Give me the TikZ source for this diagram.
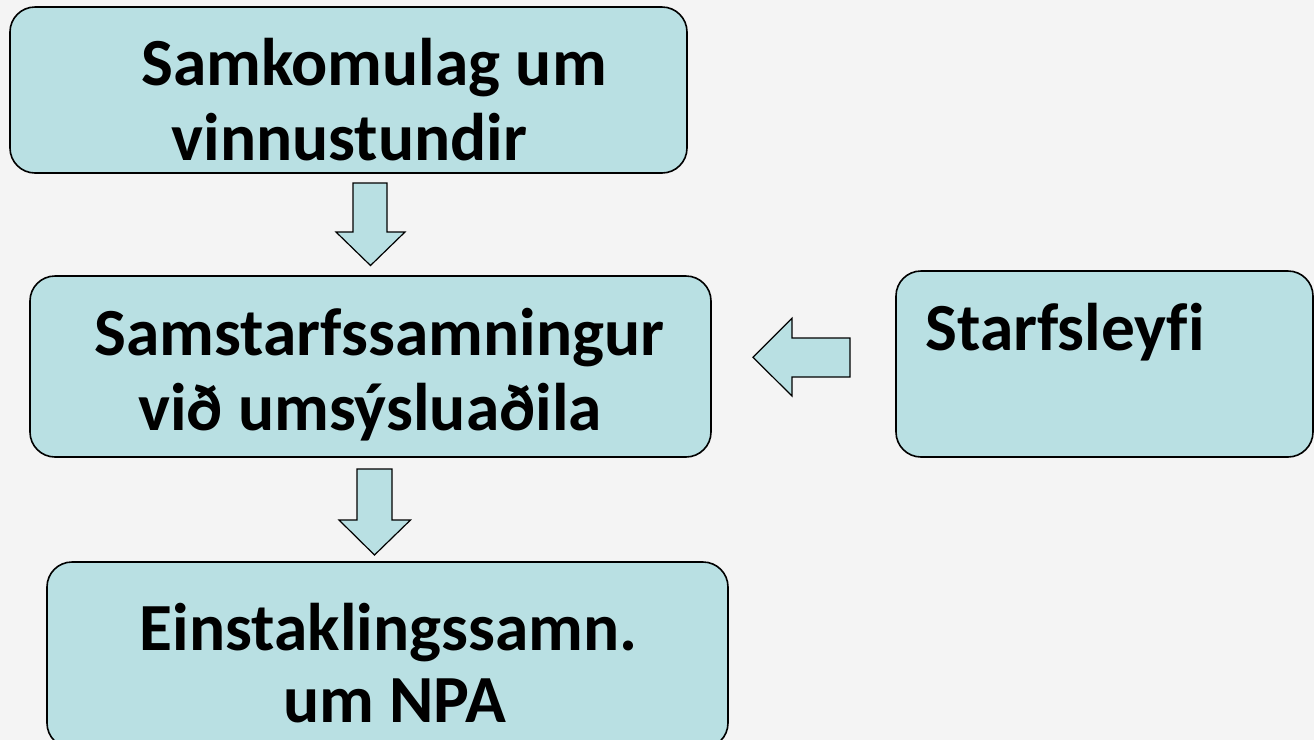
\documentclass[tikz,border=0pt]{standalone}
\usepackage{fontspec}
\setmainfont{Carlito}[Ligatures=NoCommon]
\definecolor{boxfill}{HTML}{B9E0E3}
\definecolor{bgcol}{HTML}{F4F4F4}
\begin{document}
\begin{tikzpicture}[x=0.5pt,y=-0.5pt,
  box/.style={draw=black,line width=0.8pt,fill=boxfill,rounded corners=12.5pt},
  txt/.style={font=\fontsize{33.7}{40}\selectfont\bfseries,inner sep=0pt,anchor=base},
  blockarrow/.style={draw=black,line width=0.6pt,fill=boxfill,line join=miter}]
\fill[bgcol] (0,0) rectangle (1314,740);
\useasboundingbox (0,0) rectangle (1314,740);
% boxes
\draw[box] (10,7) rectangle (687,173);
\draw[box] (30,276) rectangle (711,457);
\draw[box] (47,562) rectangle (728,748);
\draw[box] (896,271) rectangle (1313,457);
% texts
\node[txt] (t1a) at (374,85) {Samkomulag um};
\node[txt] (t1b) at (349.5,160) {vinnustundir};
\node[txt] (t2a) at (379.5,355) {Samstarfssamningur};
\node[txt] (t2b) at (370,430) {við umsýsluaðila};
\node[txt] (t3a) at (388.5,650) {Einstaklingssamn.};
\node[txt] (t3b) at (394.5,722) {um NPA};
\node[txt,anchor=base west] (t4) at (925,350) {Starfsleyfi};
% block arrows
\draw[blockarrow] (353,183) -- (387,183) -- (387,232) -- (405,232) -- (370.5,265.5) -- (336,232) -- (353,232) -- cycle;
\draw[blockarrow] (357,469) -- (392,469) -- (392,520) -- (410.5,520) -- (374.5,555) -- (339,520) -- (357,520) -- cycle;
\draw[blockarrow] (850,338) -- (850,377) -- (792,377) -- (792,396) -- (753,357.3) -- (792,318.3) -- (792,338) -- cycle;
\end{tikzpicture}
\end{document}
